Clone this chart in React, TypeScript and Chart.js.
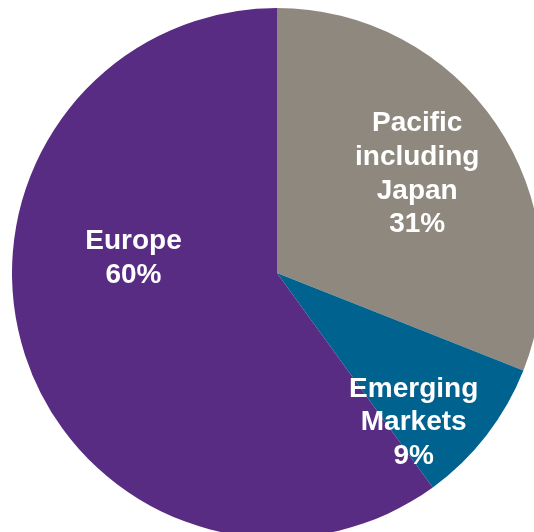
import React, { useEffect, useRef } from "react";
import { Chart, registerables } from "chart.js";

Chart.register(...registerables);

const categories = ["Pacific including Japan", "Emerging Markets", "Europe"];
const values = [31, 9, 60];
const labelLines = [
  ["Pacific", "including", "Japan", "31%"],
  ["Emerging", "Markets", "9%"],
  ["Europe", "60%"],
];
const colors = ["#8F887E", "#00628E", "#582C82"];
// label placement: angle (deg, clockwise from top) and distance as fraction of radius
const labelAngles = [54.5, 137.4, 276.4];
const labelDist = [0.65, 0.762, 0.545];

const labelPlugin = {
  id: "sliceLabels",
  afterDatasetsDraw(chart: any) {
    const ctx = chart.ctx;
    const meta = chart.getDatasetMeta(0);
    ctx.save();
    ctx.fillStyle = "#ffffff";
    ctx.font = "bold 28px 'Liberation Sans', Arial, sans-serif";
    ctx.textAlign = "center";
    ctx.textBaseline = "middle";
    const lh = 33.8;
    meta.data.forEach((arc: any, i: number) => {
      const r = arc.outerRadius;
      const a = (labelAngles[i] * Math.PI) / 180;
      const cx = arc.x + Math.sin(a) * r * labelDist[i];
      const cy = arc.y - Math.cos(a) * r * labelDist[i];
      const lines = labelLines[i];
      const start = cy - ((lines.length - 1) * lh) / 2;
      lines.forEach((t, j) => ctx.fillText(t, cx, start + j * lh + 1));
    });
    ctx.restore();
  },
};

export default function App() {
  const ref = useRef<HTMLCanvasElement>(null);
  useEffect(() => {
    if (!ref.current) return;
    const chart = new Chart(ref.current, {
      type: "pie",
      data: {
        labels: categories,
        datasets: [
          {
            data: values,
            backgroundColor: colors,
            borderWidth: 0,
          },
        ],
      },
      options: {
        animation: false,
        responsive: false,
        maintainAspectRatio: false,
        layout: { padding: 0 },
        plugins: {
          legend: { display: false },
          tooltip: { enabled: false },
        },
      },
      plugins: [labelPlugin],
    });
    return () => chart.destroy();
  }, []);
  return (
    <div
      style={{
        position: "fixed",
        left: 0,
        top: 0,
        width: 534,
        height: 532,
        overflow: "hidden",
        background: "#ffffff",
      }}
    >
      <canvas
        ref={ref}
        width={530}
        height={530}
        style={{ position: "absolute", left: 12, top: 8, width: 530, height: 530 }}
      />
    </div>
  );
}
